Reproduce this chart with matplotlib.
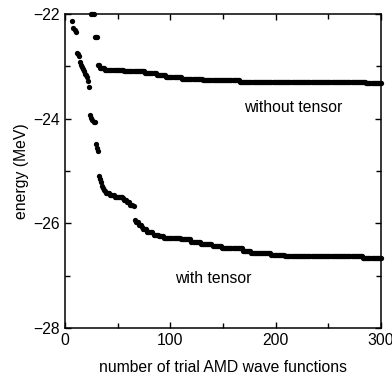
import numpy as np
import matplotlib
matplotlib.use('Agg')
import matplotlib.pyplot as plt
from matplotlib.ticker import MultipleLocator

plt.rcParams['font.family'] = ['Liberation Sans', 'DejaVu Sans']

# energy plateaus: first trial number of each level and its energy (MeV)
with_n = [7, 8, 9, 10, 11, 12, 13, 14, 15, 16, 17, 18, 19, 20, 21, 22, 23,
          24, 25, 26, 27, 29, 30, 31, 32, 33, 34, 35, 36, 37, 38, 39, 43, 47,
          54, 55, 56, 59, 62, 65, 66, 67, 70, 73, 74, 78, 84, 89, 94, 110,
          120, 129, 140, 149, 169, 177, 196, 209, 283]
with_e = [-22.13, -22.26, -22.31, -22.34, -22.74, -22.77, -22.80, -22.92,
          -22.97, -23.02, -23.06, -23.10, -23.14, -23.17, -23.20, -23.29,
          -23.40, -23.93, -23.98, -24.02, -24.06, -24.49, -24.56, -24.62,
          -25.10, -25.16, -25.22, -25.28, -25.33, -25.36, -25.38, -25.43,
          -25.46, -25.49, -25.50, -25.52, -25.56, -25.60, -25.65, -25.68,
          -25.93, -25.97, -26.03, -26.08, -26.12, -26.16, -26.22, -26.25,
          -26.28, -26.31, -26.36, -26.40, -26.44, -26.47, -26.54, -26.57,
          -26.60, -26.62, -26.67]

without_n = [25, 28, 31, 33, 38, 56, 76, 87, 96, 111, 131, 166, 286]
without_e = [-22.00, -22.44, -22.97, -23.03, -23.07, -23.10, -23.12, -23.17,
             -23.21, -23.25, -23.27, -23.30, -23.32]

n_max = 300


def expand(starts, levels, last):
    # every trial keeps the lowest energy found so far
    n = np.arange(starts[0], last + 1)
    idx = np.searchsorted(starts, n, side='right') - 1
    return n, np.array(levels)[idx]


fig = plt.figure(figsize=(3.92, 3.76), dpi=100)
ax = fig.add_axes([0.166, 0.128, 0.806, 0.835])

for starts, levels in [(with_n, with_e), (without_n, without_e)]:
    n, e = expand(starts, levels, n_max)
    ax.plot(n, e, 'o', color='black', markersize=3.8, markeredgewidth=0,
            clip_on=False)

ax.set_xlim(0, 300)
ax.set_ylim(-28, -22)
ax.xaxis.set_major_locator(MultipleLocator(100))
ax.xaxis.set_minor_locator(MultipleLocator(50))
ax.yaxis.set_major_locator(MultipleLocator(2))
ax.yaxis.set_minor_locator(MultipleLocator(1))
ax.tick_params(which='both', direction='in', top=True, right=True,
               labelsize=11.3, width=1)
ax.tick_params(which='major', length=4)
ax.tick_params(which='minor', length=3.5)
for s in ax.spines.values():
    s.set_linewidth(1.1)

ax.text(217, -23.78, 'without tensor', fontsize=11.3, ha='center', va='center')
ax.text(141, -27.05, 'with tensor', fontsize=11.3, ha='center', va='center')

ax.set_xlabel('number of trial AMD wave functions', fontsize=11.3, labelpad=9)
ax.set_ylabel('energy (MeV)', fontsize=11.3, labelpad=3)

fig.savefig('out.png', dpi=100)
